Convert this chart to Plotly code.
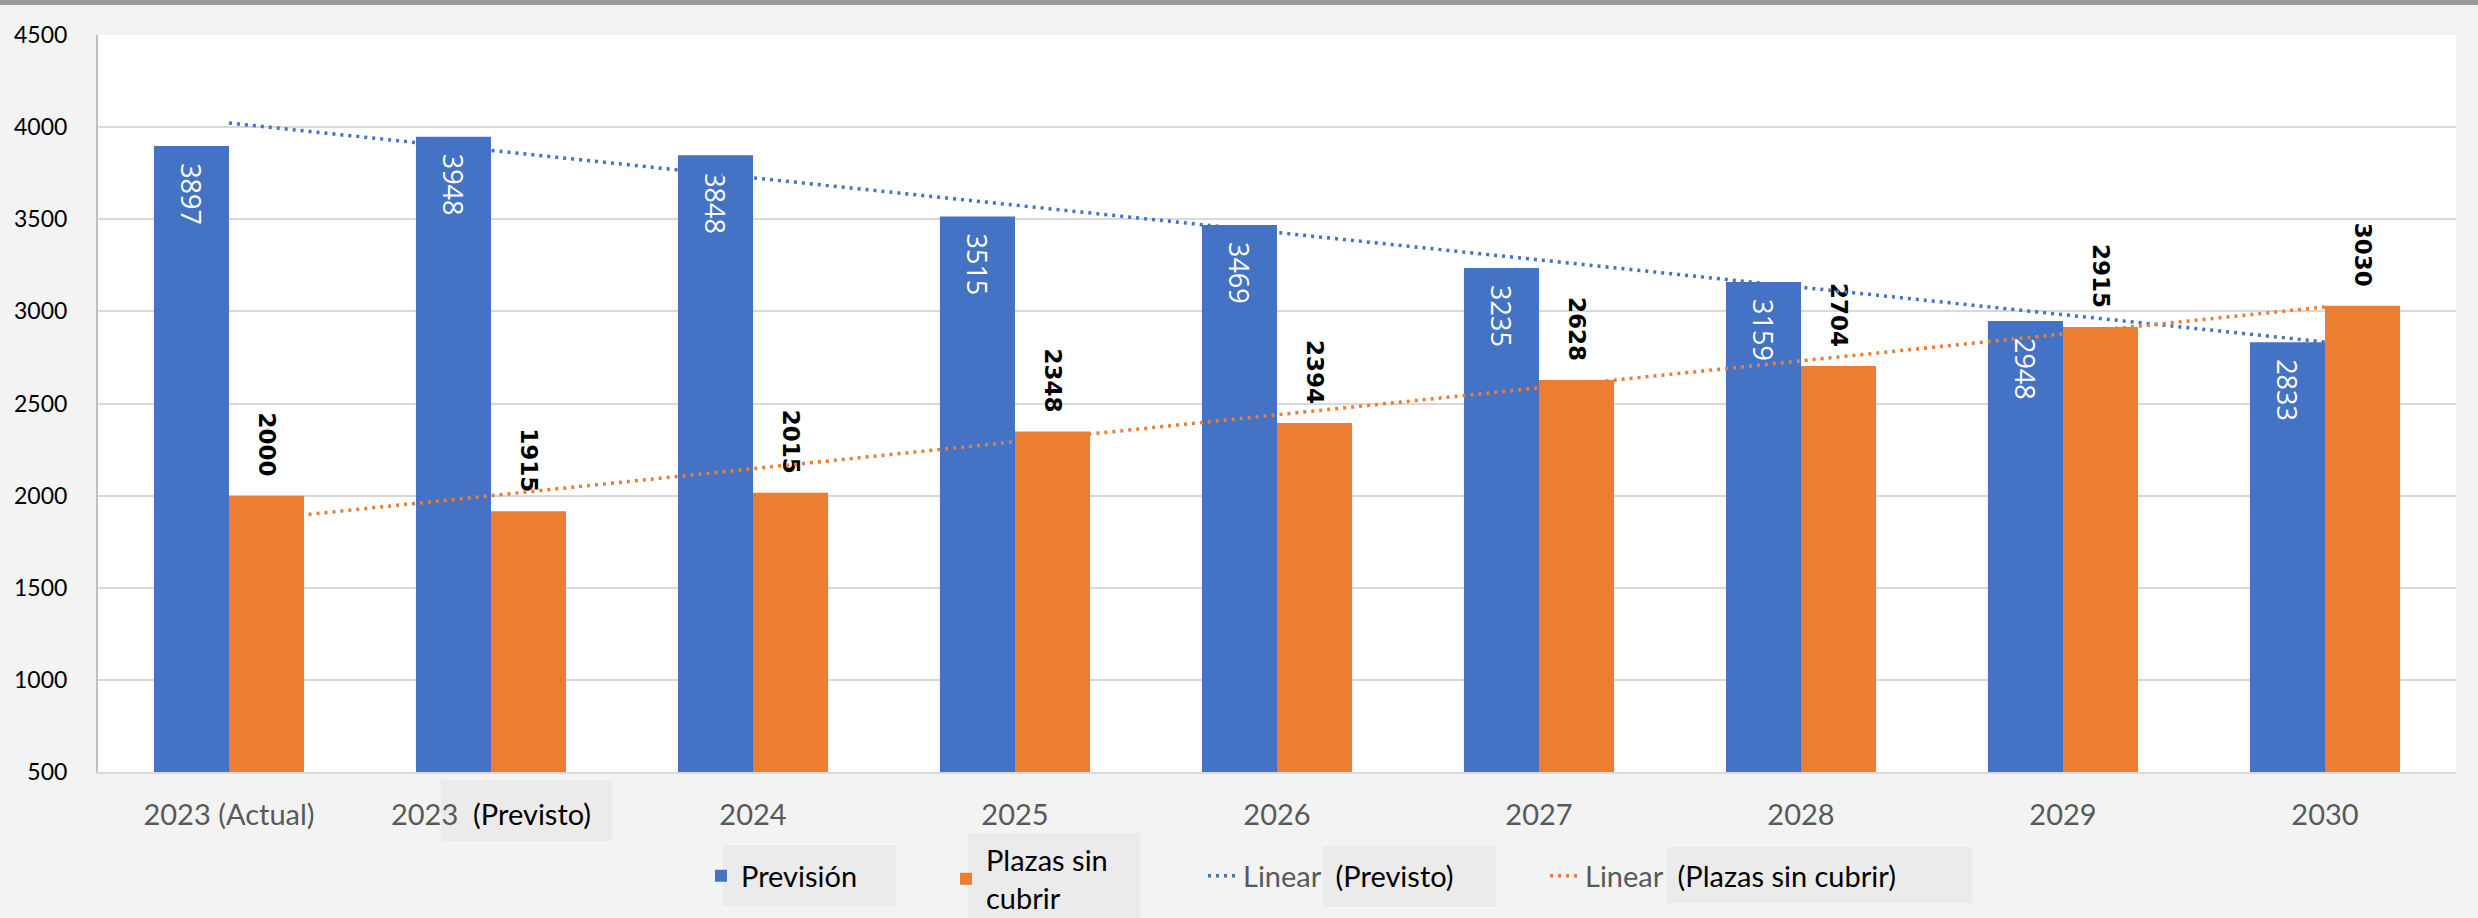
import numpy as np
import plotly.graph_objects as go

categories = ["2023 (Actual)", "2023 (Previsto)", "2024", "2025", "2026", "2027", "2028", "2029", "2030"]
tick_labels = ["2023 (Actual)",
               "2023\u00a0\u00a0<span style='color:#000000'>(Previsto)</span>",
               "2024", "2025", "2026", "2027", "2028", "2029", "2030"]
prevision = [3897, 3948, 3848, 3515, 3469, 3235, 3159, 2948, 2833]
plazas_sin_cubrir = [2000, 1915, 2015, 2348, 2394, 2628, 2704, 2915, 3030]

BLUE = "#4472C4"
ORANGE = "#ED7D31"

W, H = 2478, 918
ML, MR, MT, MB = 98, 22, 35, 146
PW, PH = W - ML - MR, H - MT - MB


def px_x(x):
    return (x - ML) / PW


def px_y(y):
    return (H - MB - y) / PH


idx = np.arange(len(categories))
trend_prev = np.polyval(np.polyfit(idx, prevision, 1), idx)
trend_plz = np.polyval(np.polyfit(idx, plazas_sin_cubrir, 1), idx)

fig = go.Figure()
fig.add_trace(go.Bar(
    x=categories, y=prevision, name="<span style='color:#000000'>Previsión</span>",
    marker=dict(color=BLUE, line=dict(width=0)),
    text=["\u00a0\u00a0" + str(v) for v in prevision],
    textposition="inside", insidetextanchor="end", textangle=90,
    textfont=dict(family="Open Sans", size=27, color="#ffffff"),
    constraintext="none", legend="legend",
))
fig.add_trace(go.Bar(
    x=categories, y=plazas_sin_cubrir, name="<span style='color:#000000'>Plazas sin<br>cubrir</span>",
    marker=dict(color=ORANGE, line=dict(width=0)),
    text=[str(v) + "\u00a0\u00a0" for v in plazas_sin_cubrir],
    textposition="outside", textangle=90,
    textfont=dict(family="DejaVu Sans", size=23, color="#000000", weight="bold"),
    constraintext="none", cliponaxis=False, legend="legend2",
))
fig.add_trace(go.Scatter(
    x=categories, y=trend_prev, mode="lines",
    name="Linear\u00a0\u00a0<span style='color:#000000'>(Previsto)</span>",
    line=dict(color=BLUE, width=3.5, dash="3px,5px"), legend="legend3",
))
fig.add_trace(go.Scatter(
    x=categories, y=trend_plz, mode="lines",
    name="Linear\u00a0\u00a0<span style='color:#000000'>(Plazas sin cubrir)</span>",
    line=dict(color=ORANGE, width=3.5, dash="3px,5px"), legend="legend4",
))

PATCH = "#ebebeb"
shapes = [
    dict(type="rect", xref="paper", yref="paper", x0=px_x(0), x1=px_x(W), y0=px_y(0), y1=px_y(5),
         fillcolor="#9a9a9a", line=dict(width=0), layer="below"),
    dict(type="rect", xref="paper", yref="paper", x0=px_x(441), x1=px_x(612), y0=px_y(780), y1=px_y(841),
         fillcolor=PATCH, line=dict(width=0), layer="below"),
    dict(type="rect", xref="paper", yref="paper", x0=px_x(723), x1=px_x(896), y0=px_y(845), y1=px_y(906),
         fillcolor=PATCH, line=dict(width=0), layer="below"),
    dict(type="rect", xref="paper", yref="paper", x0=px_x(968), x1=px_x(1140), y0=px_y(833), y1=px_y(918),
         fillcolor=PATCH, line=dict(width=0), layer="below"),
    dict(type="rect", xref="paper", yref="paper", x0=px_x(1323), x1=px_x(1496), y0=px_y(846), y1=px_y(907),
         fillcolor=PATCH, line=dict(width=0), layer="below"),
    dict(type="rect", xref="paper", yref="paper", x0=px_x(1667), x1=px_x(1972), y0=px_y(847), y1=px_y(903),
         fillcolor=PATCH, line=dict(width=0), layer="below"),
]

leg_common = dict(orientation="h", yanchor="middle", xanchor="left",
                  font=dict(family="Lato", size=29, color="#595959"),
                  bgcolor="rgba(0,0,0,0)", itemwidth=30)

fig.update_layout(
    width=W, height=H,
    margin=dict(l=ML, r=MR, t=MT, b=MB, pad=0, autoexpand=False),
    paper_bgcolor="#f3f3f3", plot_bgcolor="#ffffff",
    barmode="group", bargap=0.427, bargroupgap=0,
    font=dict(family="Lato", color="#595959"),
    showlegend=True,
    legend=dict(x=px_x(743 - 42), y=px_y(876), **leg_common),
    legend2=dict(x=px_x(988 - 42), y=px_y(879), **leg_common),
    legend3=dict(x=px_x(1245 - 42), y=px_y(876), **leg_common),
    legend4=dict(x=px_x(1587 - 42), y=px_y(876), **leg_common),
    shapes=shapes,
    xaxis=dict(
        tickmode="array", tickvals=categories, ticktext=tick_labels,
        tickfont=dict(family="Lato", size=29, color="#595959"),
        ticks="outside", ticklen=16, tickcolor="rgba(0,0,0,0)",
        showline=True, linecolor="#d9d9d9", linewidth=2,
        showgrid=False, zeroline=False, automargin=False,
    ),
    yaxis=dict(
        range=[500, 4500], dtick=500, tick0=500,
        tickfont=dict(family="Lato", size=23, color="#000000"),
        ticks="outside", ticklen=24, tickcolor="rgba(0,0,0,0)",
        showgrid=True, gridcolor="#d9d9d9", gridwidth=2,
        showline=True, linecolor="#bfbfbf", linewidth=2,
        zeroline=False, automargin=False,
    ),
)

fig.write_html("out.html", config={"displayModeBar": False},
               post_script="document.body.style.margin='0';document.body.style.overflow='hidden';")
